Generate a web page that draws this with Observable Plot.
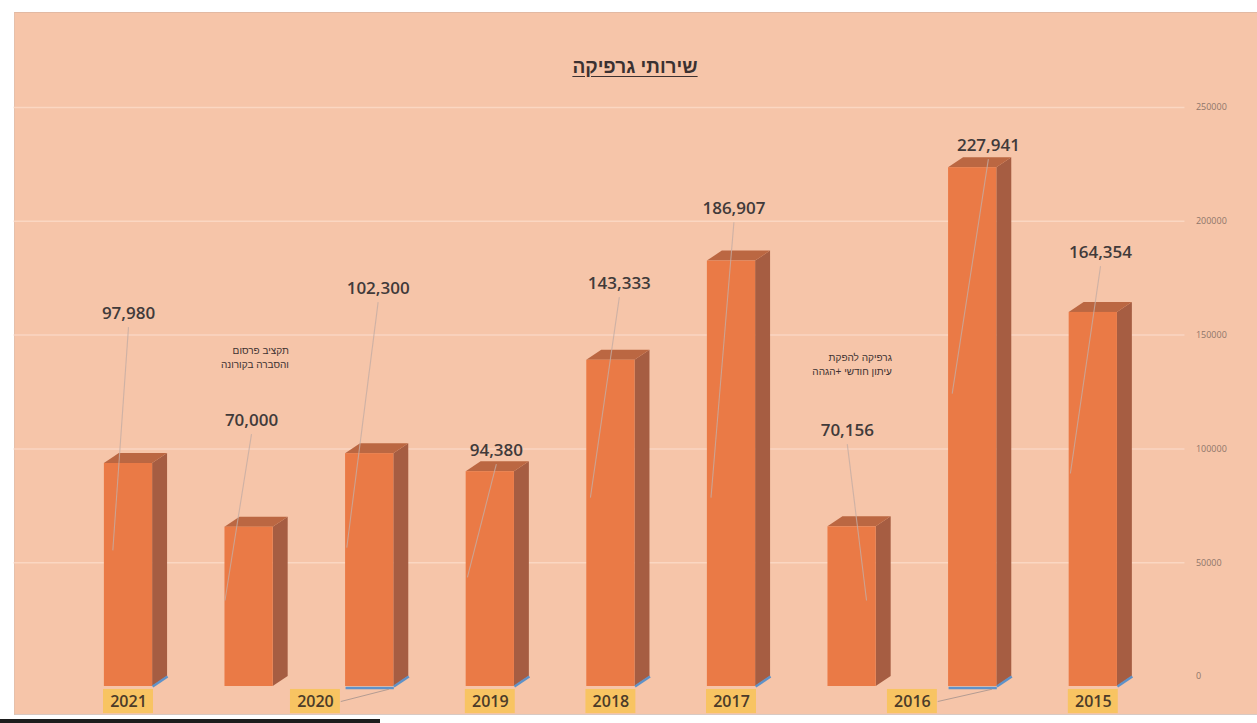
<!DOCTYPE html>
<html lang="he">
<head>
<meta charset="utf-8">
<script src="https://cdn.jsdelivr.net/npm/d3@7"></script>
<script src="https://cdn.jsdelivr.net/npm/@observablehq/plot@0.6"></script>
<style>
  html, body { margin: 0; padding: 0; background: #ffffff; }
  #wrap { position: relative; width: 1257px; height: 723px; overflow: hidden; }
  #paper { position: absolute; left: 14px; top: 12px; right: 0; bottom: 8px; background: #f6c5a9;
           border-top: 1px solid #e2b9a3; border-left: 1px solid #e6c0aa; border-bottom: 1px solid #d9c9c2; }
  #scanEdge { position: absolute; left: 0; width: 380px; bottom: 0; height: 4px; background: #1d1d1d; }
  #chart { position: absolute; left: 0; top: 0; }
  #title { position: absolute; left: 0; width: 1270px; top: 56px; text-align: center;
           font-family: "Liberation Sans", "DejaVu Sans", sans-serif; font-weight: bold; font-size: 19px;
           color: #3b3131; text-decoration: underline; text-underline-offset: 3px; direction: rtl; }
</style>
</head>
<body>
<div id="wrap">
  <div id="paper"></div>
  <div id="scanEdge"></div>
  <div id="chart"></div>
  <div id="title">שירותי גרפיקה</div>
</div>
<script>
// ---- data ----
const yearLabels = ["2021", "", "2020", "2019", "2018", "2017", "", "2016", "2015"];
const values     = [97980, 70000, 102300, 94380, 143333, 186907, 70156, 227941, 164354];
const notes      = [null, "תקציב פרסום\nוהסברה בקורונה", null, null, null, null, "גרפיקה להפקת\nעיתון חודשי +הגהה", null, null];
const noteLevel  = [null, 145000, null, null, null, null, 141900, null, null];
const yTicks     = [0, 50000, 100000, 150000, 200000, 250000];
// value-label placement (in data units, as dragged in the source chart)
const labelShift = [0, 0.02, 0.07, 0.05, 0.07, 0.02, -0.04, 0.13, 0.06];
const labelLevel = [163900, 116900, 174900, 103700, 177100, 210000, 112500, 237700, 190700];
const leaderEndShift = [-0.13, -0.20, -0.19, -0.19, -0.17, -0.17, 0.12, -0.17, -0.19];
const leaderEndLevel = [59800, 37800, 61000, 47900, 83000, 83000, 37800, 128700, 93600];
const yearShift  = [0, 0, -0.45, 0, 0, 0, 0, -0.50, 0];

// ---- styling constants ----
const FRONT = "#ea7a46", SIDE = "#a65d42", TOP = "#bb6742";
const half = 0.2;            // half bar width (x units)
const depthX = 0.124;        // 3D depth in x units
const depthY = 4400;         // 3D depth in y units

const rows = values.map((v, i) => ({
  i, v, year: yearLabels[i], note: notes[i], noteY: noteLevel[i],
  lx: i + labelShift[i], ly: labelLevel[i],
  ex: i + leaderEndShift[i], ey: leaderEndLevel[i],
  yx: i + yearShift[i]
}));
const years = rows.filter(d => d.year);
const shifted = years.filter(d => d.yx !== d.i);

// side-face and top-face polygons derived from the values
const sidePts = rows.flatMap(d => [
  {z: d.i, x: d.i + half, y1: 0, y2: d.v},
  {z: d.i, x: d.i + half + depthX, y1: depthY, y2: d.v + depthY}
]);
const topPts = rows.flatMap(d => [
  {z: d.i, x: d.i - half, y1: d.v, y2: d.v},
  {z: d.i, x: d.i - half + depthX, y1: d.v, y2: d.v + depthY},
  {z: d.i, x: d.i + half, y1: d.v, y2: d.v + depthY},
  {z: d.i, x: d.i + half + depthX, y1: d.v + depthY, y2: d.v + depthY}
]);

const fmt = d3.format(",");
const font = "'Open Sans', 'Liberation Sans', sans-serif";
const hebFont = "'Liberation Sans', 'DejaVu Sans', sans-serif";

const chart = Plot.plot({
  width: 1257,
  height: 723,
  marginLeft: 7.4,
  marginRight: 43.6,
  marginTop: 117,
  marginBottom: 37,
  x: {domain: [-1, 9], axis: null},
  y: {domain: [0, 250000], axis: null},
  style: {background: "transparent", overflow: "visible"},
  marks: [
    Plot.ruleY(yTicks.filter(t => t > 0), {x1: -0.95, x2: 8.76, dy: -10, stroke: "#fcdccb", strokeWidth: 1.5, strokeOpacity: 0.75}),
    Plot.areaY(sidePts, {x: "x", y1: "y1", y2: "y2", z: "z", fill: SIDE, curve: "linear"}),
    Plot.areaY(topPts, {x: "x", y1: "y1", y2: "y2", z: "z", fill: TOP, curve: "linear"}),
    Plot.rectY(rows, {x1: d => d.i - half, x2: d => d.i + half, y1: () => 0, y2: "v", fill: FRONT}),
    Plot.link(years, {x1: d => d.i + half, y1: () => 0, x2: d => d.i + half + depthX, y2: () => depthY,
                      stroke: "#5f92c8", strokeWidth: 2.5}),
    Plot.link(shifted, {x1: d => d.i - half, y1: () => -700, x2: d => d.i + half, y2: () => -700,
                        stroke: "#5f92c8", strokeWidth: 2.5}),
    Plot.link(rows, {x1: "lx", y1: d => d.ly - 6000, x2: "ex", y2: "ey",
                     stroke: "#c4aca4", strokeWidth: 1.1, strokeOpacity: 0.8}),
    Plot.text(rows, {x: "lx", y: "ly", text: d => fmt(d.v), fontSize: 17, fontWeight: 600,
                     fill: "#413a3a", fontFamily: font}),
    Plot.text(rows.filter(d => d.note), {x: d => d.i + 0.33, y: "noteY", text: "note", textAnchor: "end",
                     fontSize: 10, lineHeight: 1.4, fill: "#3d3232", fontFamily: hebFont}),
    Plot.link(shifted, {x1: d => d.yx + 0.21, y1: () => -6600, x2: d => d.i + 0.16, y2: () => -1200,
                        stroke: "#b49c92", strokeWidth: 1}),
    Plot.rect(years, {x1: d => d.yx - 0.207, x2: d => d.yx + 0.207, y1: () => -1300, y2: () => -11900,
                      fill: "#f8c462"}),
    Plot.text(years, {x: "yx", y: () => -6600, text: "year", fontSize: 16, fontWeight: 600,
                      fill: "#4b3b29", fontFamily: font}),
    Plot.axisY({ticks: yTicks, anchor: "right", tickSize: 0, tickPadding: 0, dx: -18, dy: -10,
                tickFormat: d => String(d), fontSize: 9, color: "#8e766a", label: null, fontFamily: font})
  ]
});
document.getElementById("chart").appendChild(chart);
</script>
</body>
</html>
